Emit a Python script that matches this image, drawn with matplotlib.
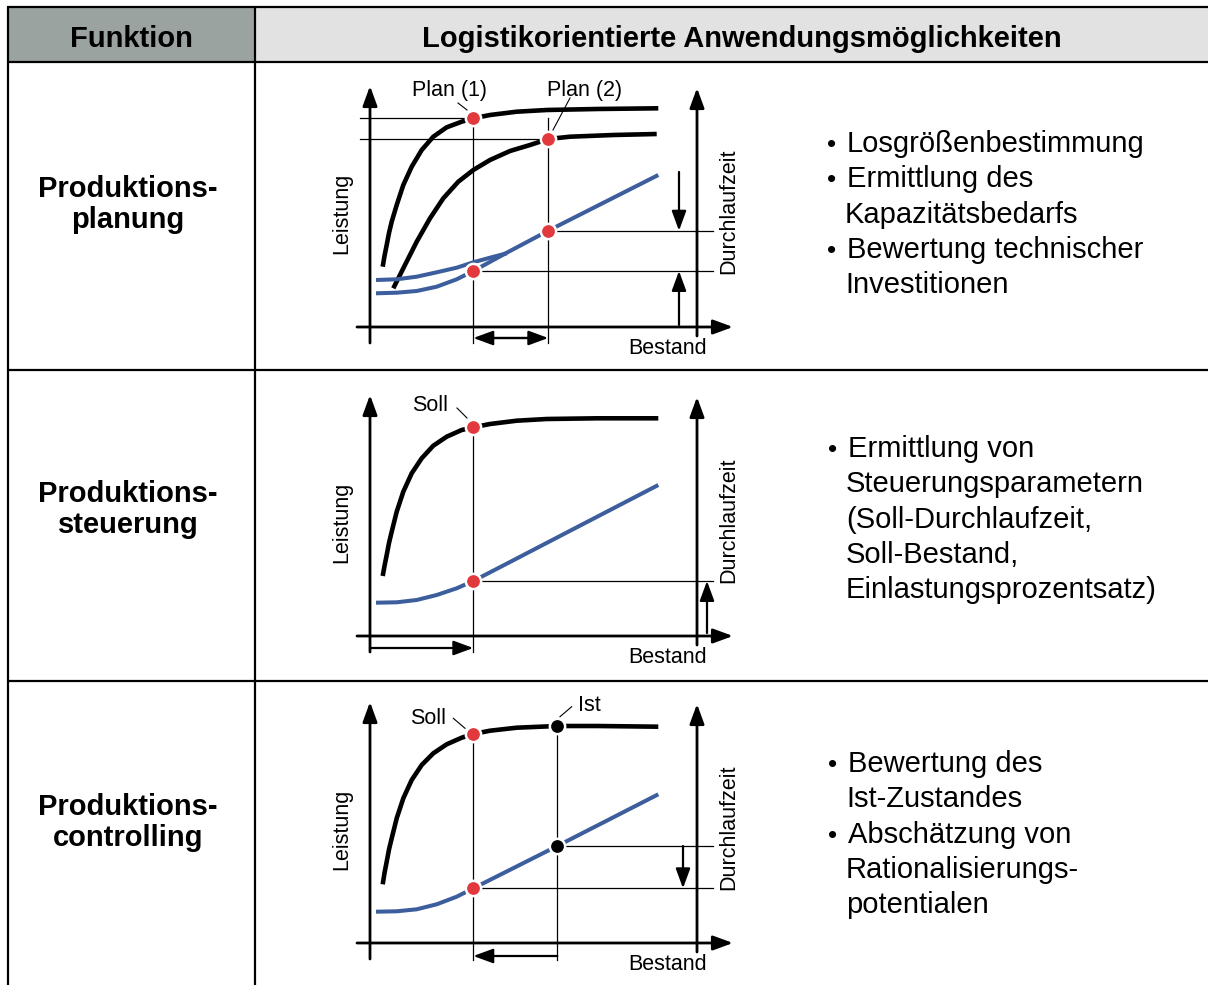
import matplotlib.pyplot as plt
from matplotlib.patches import Rectangle

plt.rcParams['font.family'] = ['Liberation Sans', 'DejaVu Sans']

W, H = 1208, 985
BLUE = '#3c5e9d'
RED = '#e1393d'

# table text
header_left = 'Funktion'
header_right = 'Logistikorientierte Anwendungsmöglichkeiten'
functions = [['Produktions-', 'planung'],
             ['Produktions-', 'steuerung'],
             ['Produktions-', 'controlling']]
uses = [
    ['• Losgrößenbestimmung', '• Ermittlung des', 'Kapazitätsbedarfs',
     '• Bewertung technischer', 'Investitionen'],
    ['• Ermittlung von', 'Steuerungsparametern', '(Soll-Durchlaufzeit,',
     'Soll-Bestand,', 'Einlastungsprozentsatz)'],
    ['• Bewertung des', 'Ist-Zustandes', '• Abschätzung von',
     'Rationalisierungs-', 'potentialen'],
]

# diagram 1 (Produktionsplanung): two performance curves, two throughput-time curves
d1_bestand_a = [1.27, 1.45, 1.67, 1.9, 2.17, 2.67, 3.33, 4.17, 5.17, 6.33, 7.67, 9.17, 10.33, 12.0, 14.67, 17.67, 22.67, 28.83]
d1_leistung_a = [6.03, 7.1, 8.2, 9.4, 10.53, 12.2, 14.2, 16.03, 17.7, 19.03, 19.97, 20.53, 20.87, 21.2, 21.53, 21.7, 21.8, 21.87]
d1_bestand_b = [2.33, 3.33, 4.67, 6.0, 7.33, 8.83, 10.33, 12.0, 14.0, 16.0, 17.83, 20.0, 24.33, 28.67]
d1_leistung_b = [3.87, 5.87, 8.53, 10.87, 12.87, 14.53, 15.7, 16.7, 17.6, 18.2, 18.8, 19.03, 19.2, 19.3]
d1_dlz_bestand_a = [0.6, 2.67, 4.67, 6.67, 8.67, 10.33, 14.0, 17.83, 28.83]
d1_dlz_a = [3.37, 3.43, 3.6, 4.03, 4.77, 5.6, 7.6, 9.63, 15.2]
d1_dlz_bestand_b = [0.6, 2.67, 4.67, 6.67, 8.67, 10.33, 12.0, 13.67]
d1_dlz_b = [4.7, 4.77, 5.03, 5.47, 5.93, 6.47, 6.93, 7.37]
plan_bestand = [10.33, 17.83]
plan_leistung = [20.87, 18.8]
plan_dlz = [5.6, 9.63]

# diagram 2 (Produktionssteuerung)
d2_bestand = [1.27, 1.45, 1.67, 1.9, 2.17, 2.67, 3.33, 4.17, 5.17, 6.33, 7.67, 9.17, 10.33, 12.0, 14.67, 17.67, 22.67, 28.83]
d2_leistung = [6.0, 7.0, 8.1, 9.3, 10.43, 12.43, 14.43, 16.27, 17.77, 19.03, 19.93, 20.6, 20.87, 21.2, 21.53, 21.7, 21.77, 21.77]
d2_dlz_bestand = [0.6, 2.67, 4.67, 6.67, 8.67, 10.33, 14.0, 19.33, 28.83]
d2_dlz = [3.33, 3.37, 3.6, 4.1, 4.77, 5.5, 7.4, 10.17, 15.1]
soll2 = (10.33, 20.87, 5.5)   # Bestand, Leistung, Durchlaufzeit

# diagram 3 (Produktionscontrolling)
d3_bestand = [1.27, 1.45, 1.67, 1.9, 2.17, 2.67, 3.33, 4.17, 5.17, 6.33, 7.67, 9.17, 10.33, 12.0, 14.67, 18.73, 22.67, 28.83]
d3_leistung = [5.87, 7.0, 8.13, 9.35, 10.47, 12.47, 14.47, 16.3, 17.8, 18.97, 19.87, 20.53, 20.9, 21.23, 21.53, 21.7, 21.7, 21.63]
d3_dlz_bestand = [0.6, 2.67, 4.67, 6.67, 8.67, 10.33, 18.73, 28.83]
d3_dlz = [3.13, 3.17, 3.37, 3.87, 4.63, 5.47, 9.7, 14.87]
soll3 = (10.33, 20.9, 5.47)
ist3 = (18.73, 21.7, 9.7)

fig = plt.figure(figsize=(W / 100, H / 100), dpi=100)

# ---- table frame ----
tab = fig.add_axes([0, 0, 1, 1])
tab.set_xlim(0, W)
tab.set_ylim(H, 0)
tab.axis('off')
tab.add_patch(Rectangle((8, 7), 247, 55, facecolor='#9aa39f', edgecolor='none'))
tab.add_patch(Rectangle((255, 7), W - 255, 55, facecolor='#e2e2e2', edgecolor='none'))
for y in [7, 62, 370, 681]:
    tab.plot([7, W], [y, y], color='black', lw=1.6, solid_capstyle='butt')
for x in [8, 255]:
    tab.plot([x, x], [7, H], color='black', lw=1.6, solid_capstyle='butt')

tab.text(131, 47, header_left, ha='center', va='baseline', fontsize=21, fontweight='bold')
tab.text(742, 47, header_right, ha='center', va='baseline', fontsize=21, fontweight='bold')

row_base = [197, 502, 815]
for base, lines in zip(row_base, functions):
    for i, s in enumerate(lines):
        tab.text(128, base + i * 31, s, ha='center', va='baseline',
                 fontsize=21, fontweight='bold')

use_base = [152, 457, 772]
for r, (base, lines) in enumerate(zip(use_base, uses)):
    tx = 847 if r == 0 else 848
    for i, s in enumerate(lines):
        y = base + i * 35.3
        if s.startswith('• '):
            tab.text(tx - 15, y, '•', ha='center', va='baseline', fontsize=19)
            tab.text(tx, y, s[2:], ha='left', va='baseline', fontsize=21)
        else:
            tab.text(tx - 2, y, s, ha='left', va='baseline', fontsize=21)


def arrow(ax, x0, y0, x1, y1, lw=2.0, hl=0.6, hw=0.22):
    ax.annotate('', xy=(x1, y1), xytext=(x0, y0),
                arrowprops=dict(arrowstyle=f'-|>,head_length={hl},head_width={hw}',
                                lw=lw, color='black', shrinkA=0, shrinkB=0,
                                mutation_scale=20),
                annotation_clip=False)


def diagram_axes(ox, oy):
    x0, x1 = ox - 50, ox + 390
    y0, y1 = oy - 265, oy + 40
    ax = fig.add_axes([x0 / W, 1 - y1 / H, (x1 - x0) / W, (y1 - y0) / H])
    ax.set_xlim((x0 - ox) / 10, (x1 - ox) / 10)
    ax.set_ylim((oy - y1) / 10, (oy - y0) / 10)
    ax.axis('off')
    # axes: Leistung (left), Bestand (bottom), Durchlaufzeit (right)
    arrow(ax, 0, -1.6, 0, 24.1, lw=2.0)
    arrow(ax, -1.3, 0, 36.3, 0, lw=2.0)
    arrow(ax, 32.7, -0.9, 32.7, 23.9, lw=2.0)
    ax.text(-2.8, 11.4, 'Leistung', rotation=90, ha='center', va='center', fontsize=15.5)
    ax.text(35.9, 11.6, 'Durchlaufzeit', rotation=90, ha='center', va='center', fontsize=15.5)
    ax.text(29.8, -2.7, 'Bestand', ha='center', va='baseline', fontsize=15.5)
    return ax


thin = dict(color='black', lw=0.9, zorder=1)
black = dict(color='black', lw=3.3, solid_capstyle='butt', solid_joinstyle='round', zorder=3)
blue = dict(color=BLUE, lw=2.9, solid_capstyle='butt', solid_joinstyle='round', zorder=3)
dot = dict(ls='none', marker='o', ms=11, mec='white', mew=1.8, zorder=5)

# ---- diagram 1 ----
ax = diagram_axes(370, 327)
for b, l in zip(plan_bestand, plan_leistung):
    ax.plot([-1.0, b], [l, l], **thin)
ax.plot([plan_bestand[0]] * 2, [plan_leistung[0], -1.6], **thin)
ax.plot([plan_bestand[1]] * 2, [plan_leistung[0], -1.6], **thin)
for b, d in zip(plan_bestand, plan_dlz):
    ax.plot([b, 34.3], [d, d], **thin)
ax.plot(d1_bestand_a, d1_leistung_a, **black)
ax.plot(d1_bestand_b, d1_leistung_b, **black)
ax.plot(d1_dlz_bestand_b, d1_dlz_b, **blue)
ax.plot(d1_dlz_bestand_a, d1_dlz_a, **blue)
ax.plot(plan_bestand, plan_leistung, mfc=RED, **dot)
ax.plot(plan_bestand, plan_dlz, mfc=RED, **dot)
arrow(ax, 30.9, 15.5, 30.9, plan_dlz[1], lw=1.6)
arrow(ax, 30.9, 0.2, 30.9, plan_dlz[0], lw=1.6)
arrow(ax, plan_bestand[0] + 1.5, -1.1, plan_bestand[1], -1.1, lw=1.6)
arrow(ax, plan_bestand[1] - 1.5, -1.1, plan_bestand[0], -1.1, lw=1.6)
ax.text(8.0, 23.13, 'Plan (1)', ha='center', va='baseline', fontsize=15.5)
ax.text(21.5, 23.13, 'Plan (2)', ha='center', va='baseline', fontsize=15.5)
ax.plot([8.8, 9.7], [22.4, 21.7], color='black', lw=0.8)
ax.plot([20.0, 18.3], [22.9, 19.7], color='black', lw=0.8)

# ---- diagram 2 ----
ax = diagram_axes(370, 636)
ax.plot([soll2[0]] * 2, [soll2[1], -1.6], **thin)
ax.plot([soll2[0], 34.3], [soll2[2], soll2[2]], **thin)
ax.plot(d2_bestand, d2_leistung, **black)
ax.plot(d2_dlz_bestand, d2_dlz, **blue)
ax.plot([soll2[0]], [soll2[1]], mfc=RED, **dot)
ax.plot([soll2[0]], [soll2[2]], mfc=RED, **dot)
arrow(ax, 33.7, 0.3, 33.7, soll2[2], lw=1.6)
arrow(ax, 0, -1.2, soll2[0], -1.2, lw=1.6)
ax.text(6.0, 22.53, 'Soll', ha='center', va='baseline', fontsize=15.5)
ax.plot([8.7, 9.7], [22.8, 21.8], color='black', lw=0.8)

# ---- diagram 3 ----
ax = diagram_axes(370, 943)
for p in (soll3, ist3):
    ax.plot([p[0]] * 2, [p[1], -1.7], **thin)
    ax.plot([p[0], 34.3], [p[2], p[2]], **thin)
ax.plot(d3_bestand, d3_leistung, **black)
ax.plot(d3_dlz_bestand, d3_dlz, **blue)
ax.plot([soll3[0]], [soll3[1]], mfc=RED, **dot)
ax.plot([soll3[0]], [soll3[2]], mfc=RED, **dot)
ax.plot([ist3[0]], [ist3[1]], mfc='black', **dot)
ax.plot([ist3[0]], [ist3[2]], mfc='black', **dot)
arrow(ax, 31.3, ist3[2], 31.3, soll3[2], lw=1.6)
arrow(ax, ist3[0], -1.3, soll3[0], -1.3, lw=1.6)
ax.text(5.83, 21.9, 'Soll', ha='center', va='baseline', fontsize=15.5)
ax.text(21.9, 23.2, 'Ist', ha='center', va='baseline', fontsize=15.5)
ax.plot([8.33, 9.5], [22.47, 21.47], color='black', lw=0.8)
ax.plot([20.17, 19.0], [23.63, 22.63], color='black', lw=0.8)

fig.savefig('out.png', dpi=100)
